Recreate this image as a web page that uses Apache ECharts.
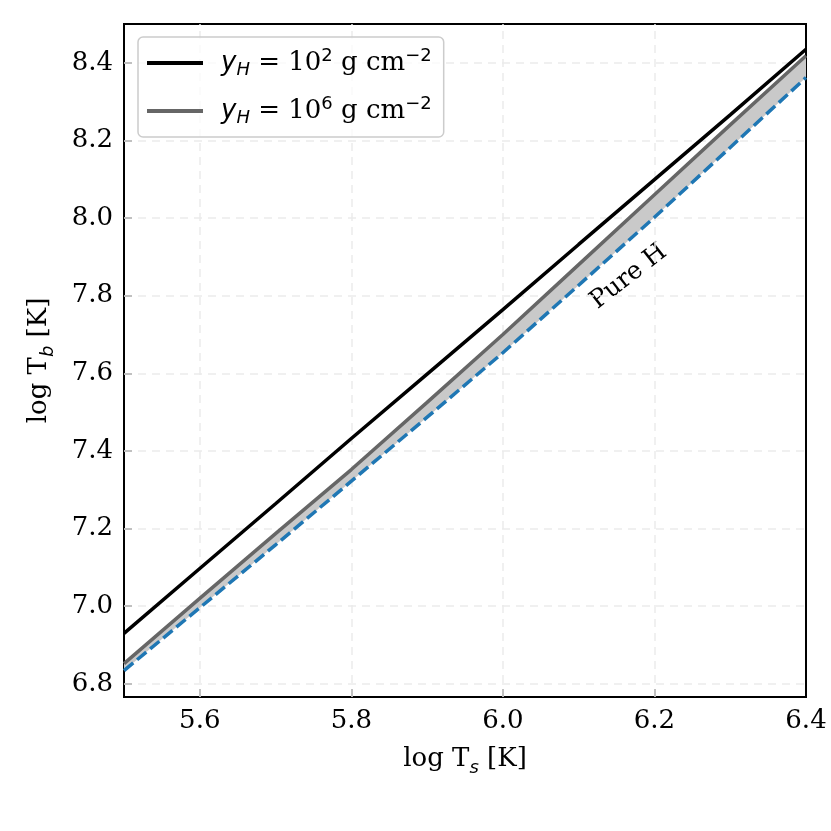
<!DOCTYPE html>
<html>
<head>
<meta charset="utf-8">
<script src="https://cdn.jsdelivr.net/npm/echarts@6/dist/echarts.min.js"></script>
<style>
  html, body { margin: 0; padding: 0; background: #fff; }
  #chart { width: 831px; height: 831px; }
</style>
</head>
<body>
<div id="chart"></div>
<script>
// log T_s values (x) and log T_b curves
var logTs  = [5.5, 5.6, 5.7, 5.8, 5.9, 6.0, 6.1, 6.2, 6.3, 6.4]
var tbH2   = [6.930, 7.097, 7.264, 7.432, 7.598, 7.764, 7.932, 8.099, 8.266, 8.435] // y_H = 1e2
var tbH6   = [6.852, 7.020, 7.187, 7.352, 7.525, 7.700, 7.880, 8.060, 8.240, 8.418] // y_H = 1e6
var tbPure = [6.834, 6.996, 7.158, 7.322, 7.487, 7.653, 7.827, 8.002, 8.182, 8.362] // pure H
var xTicks = [5.6, 5.8, 6.0, 6.2, 6.4]
var yTicks = [6.8, 7.0, 7.2, 7.4, 7.6, 7.8, 8.0, 8.2, 8.4]

var serif = 'DejaVu Serif'
var sans = 'DejaVu Sans'
var fs = 26
var fsSmall = 18

function pairs(ys) {
  return logTs.map(function (x, i) { return [x, ys[i]] })
}

// dashed grid, skipping the line that would sit on the right border
var gridLine = { type: [8, 6], color: '#ebebeb', width: 1.5 }
var gridMarks = xTicks.filter(function (v) { return v < 6.4 }).map(function (v) { return { xAxis: v } })
  .concat(yTicks.map(function (v) { return { yAxis: v } }))

var subStyle = { fontFamily: sans, fontStyle: 'italic', fontSize: fsSmall, verticalAlign: 'bottom', padding: [0, 0, -5, 0], color: '#000' }

var chart = echarts.init(document.getElementById('chart'))

var option = {
  animation: false,
  grid: {
    left: 124, right: 25, top: 24, bottom: 134,
    show: true, borderColor: '#000', borderWidth: 2, backgroundColor: 'transparent'
  },
  legend: {
    data: [
      { name: 'yH2', icon: 'rect', itemStyle: { color: '#000000', borderWidth: 0 } },
      { name: 'yH6', icon: 'rect', itemStyle: { color: '#666666', borderWidth: 0 } }
    ],
    orient: 'vertical',
    left: 138, top: 37,
    padding: [10, 12, 10, 9],
    itemGap: 16,
    itemWidth: 56, itemHeight: 4,
    backgroundColor: 'rgba(255,255,255,0.8)',
    borderColor: '#cccccc', borderWidth: 1.5, borderRadius: 5,
    formatter: function (name) {
      var p = name === 'yH2' ? '2' : '6'
      return '{i|y}{s|H}{r| = 10}{p|' + p + '}{r| g cm}{p|−2}'
    },
    textStyle: {
      padding: [0, 0, 0, 13],
      rich: {
        i: { fontFamily: sans, fontStyle: 'italic', fontSize: fs, lineHeight: 32, color: '#000' },
        s: { fontFamily: sans, fontStyle: 'italic', fontSize: fsSmall, lineHeight: 18, verticalAlign: 'bottom', color: '#000' },
        r: { fontFamily: serif, fontSize: fs, lineHeight: 32, color: '#000' },
        p: { fontFamily: sans, fontSize: fsSmall, lineHeight: 18, verticalAlign: 'top', color: '#000' }
      }
    }
  },
  xAxis: {
    type: 'value',
    min: 5.5, max: 6.4,
    name: 'log T{s|s} [K]',
    nameLocation: 'middle',
    nameGap: 49,
    nameTextStyle: { fontFamily: serif, fontSize: fs, color: '#000', rich: { s: subStyle } },
    axisLine: { lineStyle: { color: '#000', width: 2 } },
    axisTick: { inside: true, length: 8, customValues: xTicks, lineStyle: { color: '#000', width: 1.5 } },
    axisLabel: {
      customValues: xTicks, margin: 11,
      fontFamily: serif, fontSize: fs, color: '#000',
      formatter: function (v) { return v.toFixed(1) }
    },
    splitLine: { show: false }
  },
  yAxis: {
    type: 'value',
    min: 6.766, max: 8.5,
    name: 'log T{s|b} [K]',
    nameLocation: 'middle',
    nameGap: 72,
    nameTextStyle: { fontFamily: serif, fontSize: fs, color: '#000', rich: { s: subStyle } },
    axisLine: { show: true, lineStyle: { color: '#000', width: 2 } },
    axisTick: { show: true, inside: true, length: 8, customValues: yTicks, lineStyle: { color: '#000', width: 1.5 } },
    axisLabel: {
      customValues: yTicks, margin: 11,
      fontFamily: serif, fontSize: fs, color: '#000',
      formatter: function (v) { return v.toFixed(1) }
    },
    splitLine: { show: false }
  },
  series: [
    {
      // invisible carrier for the dashed grid lines
      name: 'grid',
      type: 'line',
      data: pairs(tbPure),
      symbol: 'none',
      lineStyle: { opacity: 0 },
      silent: true,
      z: 1,
      markLine: {
        z: 1,
        silent: true,
        symbol: 'none',
        label: { show: false },
        lineStyle: gridLine,
        data: gridMarks
      }
    },
    {
      // shaded band between the 1e6 curve and pure H
      name: 'band',
      type: 'custom',
      data: pairs(tbH6),
      silent: true,
      z: 2,
      renderItem: function (params, api) {
        if (params.dataIndex !== 0) return null
        var pts = []
        for (var i = 0; i < logTs.length; i++) pts.push(api.coord([logTs[i], tbH6[i]]))
        for (var j = logTs.length - 1; j >= 0; j--) pts.push(api.coord([logTs[j], tbPure[j]]))
        return { type: 'polygon', shape: { points: pts }, style: { fill: '#c9c9c9' } }
      }
    },
    {
      name: 'pure',
      type: 'line',
      data: pairs(tbPure),
      symbol: 'none',
      lineStyle: { color: '#1f77b4', width: 3.5, type: [12, 5] },
      z: 3
    },
    {
      name: 'yH6',
      type: 'line',
      data: pairs(tbH6),
      symbol: 'none',
      color: '#666666',
      lineStyle: { color: '#666666', width: 3.5 },
      z: 4
    },
    {
      name: 'yH2',
      type: 'line',
      data: pairs(tbH2),
      symbol: 'none',
      color: '#000000',
      lineStyle: { color: '#000000', width: 3.5 },
      z: 5
    }
  ]
}

chart.setOption(option)

// "Pure H" annotation placed in data coordinates
var labelPos = chart.convertToPixel({ gridIndex: 0 }, [6.166, 7.849])
chart.setOption({
  graphic: [{
    type: 'text',
    x: labelPos[0], y: labelPos[1],
    rotation: 38 * Math.PI / 180,
    style: {
      text: 'Pure H',
      fontFamily: serif, fontSize: 25, fill: '#000',
      align: 'center', verticalAlign: 'middle'
    }
  }]
})
</script>
</body>
</html>
